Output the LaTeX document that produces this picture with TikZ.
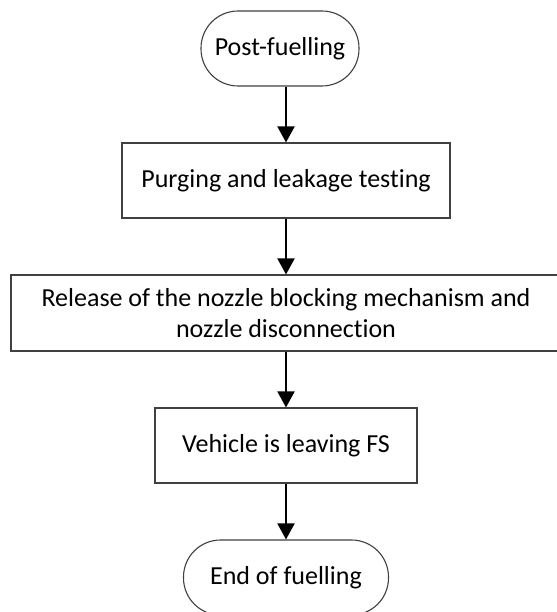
\documentclass[tikz,border=0pt]{standalone}
\usepackage{fontspec}
\setmainfont[Ligatures={NoCommon}]{Carlito}
\usetikzlibrary{arrows.meta,positioning}

\tikzset{
  x=1pt, y=1pt,
  base/.style={draw=black!75, line width=1.1pt, fill=white, inner sep=0pt,
               align=center, font=\fontsize{26}{31}\selectfont, text=black},
  stepbox/.style={base, rectangle},
  terminal/.style={base, rectangle, rounded corners=37pt},
  flow/.style={line width=2pt, -{Triangle[length=16pt,width=17pt]}}
}

\begin{document}
\begin{tikzpicture}
  \useasboundingbox (0,0) rectangle (556,-612);

  \node[terminal, minimum width=158pt, minimum height=75pt] (pf) at (280,-48.5) {Post-fuelling};
  \node[stepbox, minimum width=328pt, minimum height=75pt] (pur) at (286,-180.5) {Purging and leakage testing};
  \node[stepbox, minimum width=550pt, minimum height=76pt] (rel) at (286,-313)
       {Release of the nozzle blocking mechanism and\\nozzle disconnection};
  \node[stepbox, minimum width=262pt, minimum height=75pt] (veh) at (286,-445.5) {Vehicle is leaving FS};
  \node[terminal, minimum width=205pt, minimum height=75pt] (end) at (286,-577.5) {End of fuelling};

  \draw[flow] (pf.south -| pur.north) -- (pur.north);
  \draw[flow] (pur.south) -- (rel.north);
  \draw[flow] (rel.south) -- (veh.north);
  \draw[flow] (veh.south) -- (end.north);
\end{tikzpicture}
\end{document}
